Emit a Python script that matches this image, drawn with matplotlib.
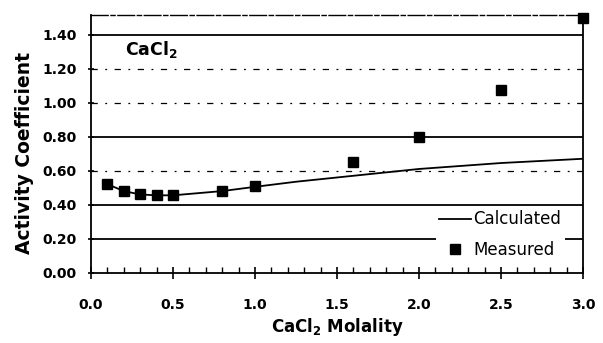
import matplotlib
matplotlib.use("Agg")
import matplotlib.pyplot as plt
from matplotlib.lines import Line2D

plt.rcParams['font.family'] = ['DejaVu Sans']
plt.rcParams['mathtext.fontset'] = 'dejavusans'

# measured data
molality_meas = [0.1, 0.2, 0.3, 0.4, 0.5, 0.8, 1.0, 1.6, 2.0, 2.5, 3.0]
gamma_meas = [0.52, 0.48, 0.46, 0.455, 0.455, 0.48, 0.51, 0.65, 0.80, 1.075, 1.50]

# calculated curve
molality_calc = [0.1, 0.2, 0.3, 0.4, 0.5, 0.8, 1.0, 1.25, 1.5, 2.0, 2.5, 3.0]
gamma_calc = [0.52, 0.48, 0.46, 0.455, 0.455, 0.48, 0.505, 0.535, 0.56, 0.61, 0.645, 0.67]

yticks = [0.0, 0.2, 0.4, 0.6, 0.8, 1.0, 1.2, 1.4]
xticks = [0.0, 0.5, 1.0, 1.5, 2.0, 2.5, 3.0]
solid_grid = [0.2, 0.4, 0.8, 1.4]
broken_grid = [0.6, 1.0, 1.2]

fig = plt.figure(figsize=(6.03, 3.43), dpi=100)
ax = fig.add_axes([0.151, 0.205, 0.816, 0.751])

for g in solid_grid:
    ax.axhline(g, color='black', lw=1.3, zorder=1)
# these grid lines are faded/broken in the scan
for g in broken_grid:
    ax.axhline(g, color='black', lw=0.9, ls=(0, (5, 6, 1.5, 6)), zorder=1)

ax.plot(molality_calc, gamma_calc, color='black', lw=1.3, zorder=3)
ax.plot(molality_meas, gamma_meas, ls='none', marker='s', ms=6.5,
        color='black', zorder=4, clip_on=False)

ax.set_xlim(0, 3.0)
ax.set_ylim(0, 1.515)
ax.set_xticks(xticks)
ax.set_xticklabels(['%.1f' % v for v in xticks])
ax.set_xticks([i / 10 for i in range(31)], minor=True)
ax.set_yticks(yticks)
ax.set_yticklabels(['%.2f' % v for v in yticks])

ax.tick_params(axis='x', which='major', direction='inout', length=8, width=1.2,
               pad=14, labelsize=10)
ax.tick_params(axis='x', which='minor', direction='in', length=4, width=1)
ax.tick_params(axis='y', which='major', direction='inout', length=5, width=1.2,
               pad=8, labelsize=10)
for lab in ax.get_xticklabels() + ax.get_yticklabels():
    lab.set_fontweight('bold')

for s in ['left', 'bottom', 'right']:
    ax.spines[s].set_linewidth(1.3)
ax.spines['top'].set_linewidth(1.0)
ax.spines['top'].set_linestyle((0, (12, 2, 3, 2)))

ax.text(0.21, 1.31, r'CaCl$_\mathbf{2}$', fontsize=12.5, fontweight='bold',
        va='center', ha='left')

ax.set_ylabel('Activity Coefficient', fontsize=13.5, fontweight='bold')
ax.yaxis.set_label_coords(-0.116, 0.465)
ax.set_xlabel(r'CaCl$_\mathbf{2}$ Molality', fontsize=12, fontweight='bold',
              labelpad=3)

handles = [Line2D([], [], color='black', lw=1.3),
           Line2D([], [], ls='none', marker='s', ms=6.5, color='black')]
leg = ax.legend(handles, ['Calculated', 'Measured'], loc='upper left',
                bbox_to_anchor=(436 / 603, 1 - 207 / 343),
                bbox_transform=fig.transFigure, frameon=True, fontsize=12,
                handlelength=1.9, handletextpad=0.15, borderpad=0.2,
                labelspacing=0.75, borderaxespad=0)
leg.get_frame().set_edgecolor('none')
leg.get_frame().set_facecolor('white')
leg.get_frame().set_alpha(1)
leg.set_zorder(5)

fig.savefig('out.png', dpi=100)
